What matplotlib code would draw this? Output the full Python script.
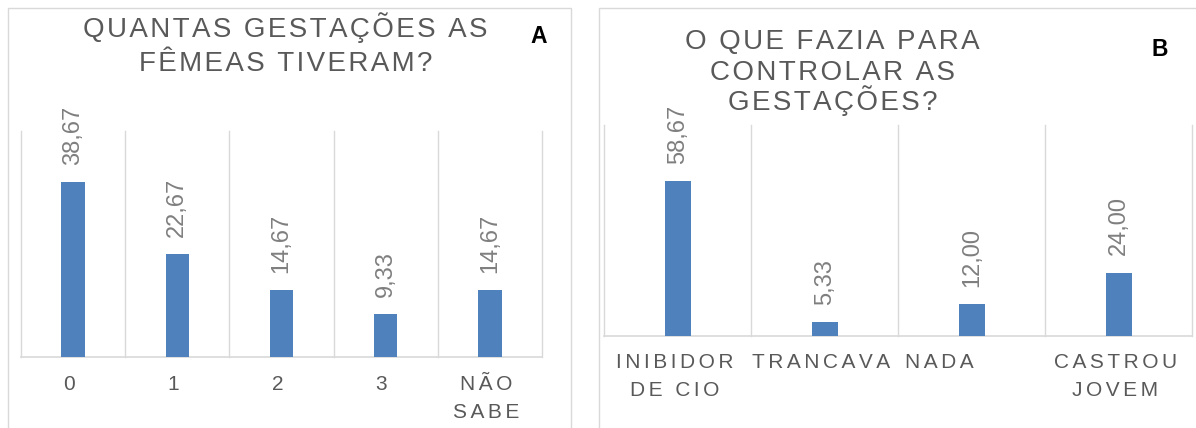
import numpy as np
import matplotlib
matplotlib.use('Agg')
import matplotlib.pyplot as plt
from matplotlib.patches import Rectangle
from matplotlib.transforms import ScaledTranslation
from matplotlib.font_manager import FontProperties

plt.rcParams['font.family'] = ['Liberation Sans', 'DejaVu Sans']

# ---------------- data ----------------
a_categories = ['0', '1', '2', '3', 'NÃO\nSABE']
a_values = [38.67, 22.67, 14.67, 9.33, 14.67]
a_title = ['QUANTAS GESTAÇÕES AS', 'FÊMEAS TIVERAM?']

b_categories = ['INIBIDOR\nDE CIO', 'TRANCAVA', 'NADA', 'CASTROU\nJOVEM']
b_values = [58.67, 5.33, 12.00, 24.00]
b_title = ['O QUE FAZIA PARA', 'CONTROLAR AS', 'GESTAÇÕES?']

panel_letters = ['A', 'B']

# ---------------- style ----------------
W, H = 1196, 428
BAR = '#4f81bd'
GRID = '#d9d9d9'
TXT = '#595959'
LBL = '#7f7f7f'
TITLE_PT = 20
TICK_PT = 15
VAL_PT = 17

fig = plt.figure(figsize=(W / 100, H / 100), dpi=100)
renderer = fig.canvas.get_renderer()


def pick_spacer(size_pt, target_px):
    """Choose the space character(s) whose width best matches the letter spacing."""
    prop = FontProperties(family=plt.rcParams['font.family'], size=size_pt)
    base = renderer.get_text_width_height_descent('II', prop, ismath=False)[0]
    cands = ['\u200a', '\u2009', '\u2006', '\u2005', '\u2004']
    opts = cands + [a + b for a in cands for b in cands]

    def err(s):
        w = renderer.get_text_width_height_descent('I' + s + 'I', prop, ismath=False)[0]
        return abs(w - base - target_px)
    return min(opts, key=err)


SP_TITLE = pick_spacer(TITLE_PT, 2.8)
SP_TICK = pick_spacer(TICK_PT, 3.1)


def spaced(s, sp, trail=0):
    return '\n'.join(sp.join(line) + sp * trail for line in s.split('\n'))


def fbox(l, t, r, b):
    return [l / W, 1 - b / H, (r - l) / W, (b - t) / H]


# panel frames
fig.add_artist(Rectangle((7.5 / W, -0.1), (571 - 7.5) / W, 1 - 8 / H + 0.1,
                         transform=fig.transFigure, fill=False, ec=GRID, lw=1.0))
fig.add_artist(Rectangle((598.5 / W, -0.1), (1210 - 598.5) / W, 1 - 8 / H + 0.1,
                         transform=fig.transFigure, fill=False, ec=GRID, lw=1.0))

axA = fig.add_axes(fbox(21, 130.7, 542, 356.5))
axB = fig.add_axes(fbox(604.3, 125, 1192.3, 336))


def draw(ax, cats, vals, ymax, width, pad):
    x = np.arange(len(cats))
    ax.set_axisbelow(True)
    bars = ax.bar(x, vals, width=width, color=BAR, zorder=3)
    ax.set_xlim(-0.5, len(cats) - 0.5)
    ax.set_ylim(0, ymax)
    ax.set_xticks(x, [spaced(c, SP_TICK, trail=2) for c in cats])
    ax.set_xticks(np.arange(len(cats) + 1) - 0.5, minor=True)
    ax.tick_params(axis='x', which='both', length=0, pad=pad,
                   labelsize=TICK_PT, labelcolor=TXT)
    for lbl in ax.get_xticklabels():
        lbl.set_linespacing(1.6)
    ax.grid(True, which='minor', axis='x', color=GRID, lw=1.0)
    for t in ax.xaxis.get_minor_ticks():
        t.gridline.set_clip_on(False)
    ax.yaxis.set_visible(False)
    for s in ['left', 'right', 'top']:
        ax.spines[s].set_visible(False)
    ax.spines['bottom'].set_color(GRID)
    ax.spines['bottom'].set_linewidth(1.2)
    ax.set_facecolor('none')
    labels = [f'{v:.2f}'.replace('.', ',') for v in vals]
    ax.bar_label(bars, labels=labels, rotation=90, padding=12.5,
                 fontsize=VAL_PT, color=LBL)
    return bars


draw(axA, a_categories, a_values, 50, 0.224, 13.6)
draw(axB, b_categories, b_values, 80, 0.18, 12.4)

# NADA label sits left of its slot in the original
for lbl in axB.get_xticklabels():
    if lbl.get_text().replace(SP_TICK, '') == 'NADA':
        lbl.set_transform(lbl.get_transform() +
                          ScaledTranslation(-29 / 100, 0, fig.dpi_scale_trans))

# titles
for line, base in zip(a_title, [37.0, 71.0]):
    fig.text(285.5 / W, 1 - base / H, spaced(line, SP_TITLE), ha='center',
             va='baseline', fontsize=TITLE_PT, color=TXT)
for line, base in zip(b_title, [49.5, 80.0, 109.5]):
    fig.text(832.5 / W, 1 - base / H, spaced(line, SP_TITLE), ha='center',
             va='baseline', fontsize=TITLE_PT, color=TXT)

# panel letters
fig.text(539 / W, 1 - 43 / H, panel_letters[0], ha='center', va='baseline',
         fontsize=16.5, fontweight='bold', color='black')
fig.text(1160 / W, 1 - 55.5 / H, panel_letters[1], ha='center', va='baseline',
         fontsize=16.5, fontweight='bold', color='black')

fig.savefig('out.png', dpi=100)
